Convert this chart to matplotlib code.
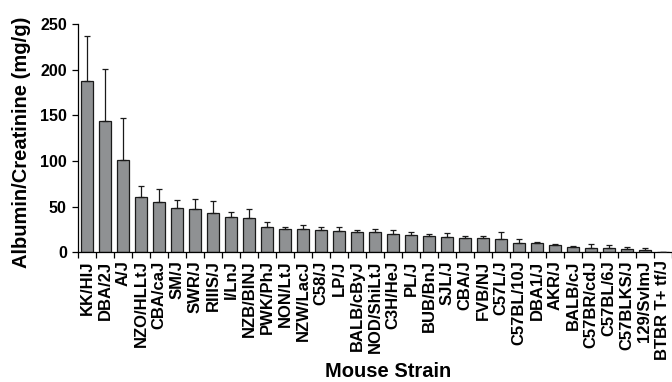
import numpy as np
import matplotlib
matplotlib.use("Agg")
import matplotlib.pyplot as plt
from matplotlib.ticker import FixedLocator

# Urinary albumin/creatinine ratio per strain (mean and upper SD)
strains = ["KK/HIJ", "DBA/2J", "A/J", "NZO/HLLtJ", "CBA/caJ", "SM/J", "SWR/J",
           "RIIIS/J", "I/LnJ", "NZB/BINJ", "PWK/PhJ", "NON/LtJ", "NZW/LacJ",
           "C58/J", "LP/J", "BALB/cByJ", "NOD/ShiLtJ", "C3H/HeJ", "PL/J",
           "BUB/BnJ", "SJL/J", "CBA/J", "FVB/NJ", "C57L/J", "C57BL/10J",
           "DBA1/J", "AKR/J", "BALB/cJ", "C57BR/cdJ", "C57BL/6J", "C57BLKS/J",
           "129/SvImJ", "BTBR T+ tf/J"]
means = [187.5, 143.5, 101, 60.3, 54.8, 48.6, 47.1, 42.8, 38.4, 37.3, 27.0,
         25.2, 25.2, 24.5, 23.4, 21.9, 21.9, 20.1, 18.3, 17.5, 16.8, 15.7,
         15.0, 13.9, 9.5, 9.5, 7.7, 5.8, 4.4, 4.4, 3.3, 1.8, 0.3]
errors = [49.3, 57.5, 46.3, 11.7, 14.6, 8.1, 11.0, 12.8, 5.5, 9.5, 5.9,
          1.8, 4.4, 3.3, 4.4, 2.2, 3.0, 4.0, 3.3, 2.2, 3.7, 1.5,
          2.9, 7.7, 4.4, 1.5, 1.4, 1.1, 4.0, 3.3, 1.8, 2.2, 0.0]

plt.rcParams["font.family"] = ["Liberation Sans", "DejaVu Sans"]
plt.rcParams["font.weight"] = "bold"

fig = plt.figure(figsize=(6.72, 3.82), dpi=100)
ax = fig.add_axes([0.116, 0.340, 0.884, 0.597])

x = np.arange(len(strains))
ax.bar(x, means, width=0.65, color="#8f9193", edgecolor="#1a1a1a", linewidth=0.9,
       zorder=2)
ax.errorbar(x, means, yerr=[np.zeros(len(errors)), errors], fmt="none",
            ecolor="#1a1a1a", elinewidth=0.9, capsize=2.2, capthick=0.9, zorder=3)

ax.set_xlim(-0.5, len(strains) - 0.5)
ax.set_ylim(0, 250)
ax.set_yticks([0, 50, 100, 150, 200, 250])
ax.tick_params(axis="y", labelsize=11.5, length=4, width=0.9, pad=4)

# labels sit under each bar, tick marks fall between bars
ax.set_xticks(x)
ax.set_xticklabels(strains, rotation=90, fontsize=12, fontweight="bold")
ax.tick_params(axis="x", which="major", length=0, pad=6)
ax.xaxis.set_minor_locator(FixedLocator(np.arange(-0.5, len(strains), 1.0)))
ax.tick_params(axis="x", which="minor", length=4, width=0.9)

for side in ["top", "right"]:
    ax.spines[side].set_visible(False)
for side in ["left", "bottom"]:
    ax.spines[side].set_linewidth(0.9)

ax.set_ylabel("Albumin/Creatinine (mg/g)", fontsize=14.5, fontweight="bold")
ax.yaxis.set_label_coords(-0.079, 0.48)
fig.text(0.578, 0.003, "Mouse Strain", ha="center", va="bottom", fontsize=14.5,
         fontweight="bold")

fig.savefig("out.png", dpi=100)
